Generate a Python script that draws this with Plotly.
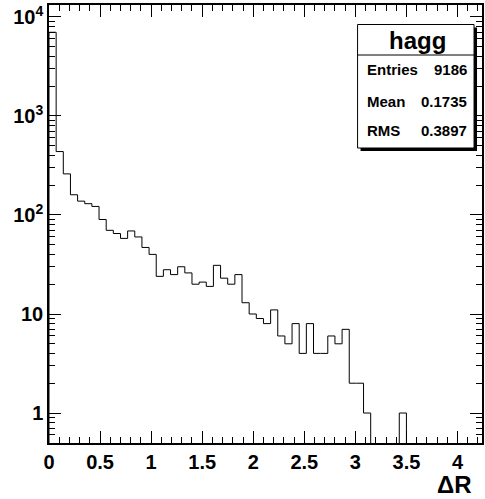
import numpy as np
import plotly.graph_objects as go

# ---- data ----
bin_width = 0.07
counts = [7000, 437, 260, 160, 138, 130, 122, 90, 70, 65,
          58, 69, 60, 47, 40, 24, 28, 25, 30, 26,
          20, 21, 19, 31, 23, 20, 25, 13, 10, 9,
          8, 11, 6, 5, 8, 4, 8, 4, 4, 6,
          5, 7, 2, 2, 1, 0, 0, 0, 0, 1,
          0, 0, 0, 0, 0, 0, 0, 0, 0, 0]
x_tick_vals = [0, 0.5, 1, 1.5, 2, 2.5, 3, 3.5, 4]
x_tick_text = ["0", "0.5", "1", "1.5", "2", "2.5", "3", "3.5", "4"]
y_tick_vals = [1, 10, 100, 1000, 10000]
y_tick_text = ["1", "10", "10<sup>2</sup>", "10<sup>3</sup>", "10<sup>4</sup>"]
stats_title = "hagg"
stats_names = ["Entries", "Mean", "RMS"]
stats_values = ["9186", "0.1735", "0.3897"]
x_title = "ΔR"

# ---- geometry ----
W, H = 485, 499
ML, MR, MT, MB = 49, 1, 5, 56
PW, PH = W - ML - MR, H - MT - MB


def px(x):
    return (x - ML) / PW


def py(y):
    return (H - MB - y) / PH


n = len(counts)
edges = np.arange(n + 1) * bin_width
floor = 1e-3  # empty bins drop below the axis
c = np.array(counts, dtype=float)
c_plot = np.where(c > 0, c, floor)
xs = np.concatenate([[0.0], edges])
ys = np.concatenate([[floor], c_plot, [c_plot[-1]]])

FONT = "Liberation Sans"

fig = go.Figure()
fig.add_trace(go.Scatter(x=xs, y=ys, mode="lines", line=dict(color="black", width=1, shape="hv"),
                         hoverinfo="skip", showlegend=False))

minor_y = []
for d in range(-1, 5):
    for m in range(2, 10):
        v = m * 10.0 ** d
        if 0.49 < v < 13500:
            minor_y.append(v)

fig.update_layout(
    width=W, height=H,
    margin=dict(l=ML, r=MR, t=MT, b=MB),
    paper_bgcolor="white", plot_bgcolor="white",
    showlegend=False,
    xaxis=dict(
        range=[0, 4.24], showgrid=False, zeroline=False,
        showline=True, linecolor="black", linewidth=1.5, mirror="ticks",
        ticks="inside", ticklen=12, tickwidth=1, tickcolor="black",
        tickvals=x_tick_vals, ticktext=x_tick_text,
        tickfont=dict(family=FONT, size=20, color="black", weight="bold"),
        minor=dict(ticks="inside", ticklen=6, tickwidth=1, tickcolor="black", dtick=0.1, showgrid=False),
    ),
    yaxis=dict(
        type="log", range=[np.log10(0.498), np.log10(13200)],
        showgrid=False, zeroline=False,
        showline=True, linecolor="black", linewidth=1.5, mirror="ticks",
        ticks="inside", ticklen=12, tickwidth=1, tickcolor="black",
        tickvals=y_tick_vals, ticktext=y_tick_text,
        tickfont=dict(family=FONT, size=20, color="black", weight="bold"),
        minor=dict(ticks="inside", ticklen=6, tickwidth=1, tickcolor="black", tickvals=minor_y, showgrid=False),
    ),
)

# stats box
bx0, bx1, by0, by1 = 359, 476, 24.5, 148
fig.add_shape(type="rect", xref="paper", yref="paper",
              x0=px(bx0 + 3), x1=px(bx1 + 3), y0=py(by1 + 3), y1=py(by0 + 3),
              fillcolor="black", line=dict(width=0))
fig.add_shape(type="rect", xref="paper", yref="paper",
              x0=px(bx0), x1=px(bx1), y0=py(by1), y1=py(by0),
              fillcolor="white", line=dict(color="black", width=1))
fig.add_shape(type="line", xref="paper", yref="paper",
              x0=px(bx0), x1=px(bx1), y0=py(55), y1=py(55),
              line=dict(color="black", width=1))
fig.add_annotation(xref="paper", yref="paper", x=px(419), y=py(40), text=stats_title,
                   showarrow=False, xanchor="center", yanchor="middle",
                   font=dict(family=FONT, size=24, color="black", weight="bold"))
row_y = [70, 101, 130]
for name, val, yy in zip(stats_names, stats_values, row_y):
    fig.add_annotation(xref="paper", yref="paper", x=px(366), y=py(yy), text=name,
                       showarrow=False, xanchor="left", yanchor="middle",
                       font=dict(family=FONT, size=15, color="black", weight="bold"))
    fig.add_annotation(xref="paper", yref="paper", x=px(471), y=py(yy), text=val,
                       showarrow=False, xanchor="right", yanchor="middle",
                       font=dict(family=FONT, size=15, color="black", weight="bold"))

fig.add_annotation(xref="paper", yref="paper", x=px(476), y=py(484), text=x_title,
                   showarrow=False, xanchor="right", yanchor="middle",
                   font=dict(family=FONT, size=24, color="black", weight="bold"))

fig.write_html("out.html")
